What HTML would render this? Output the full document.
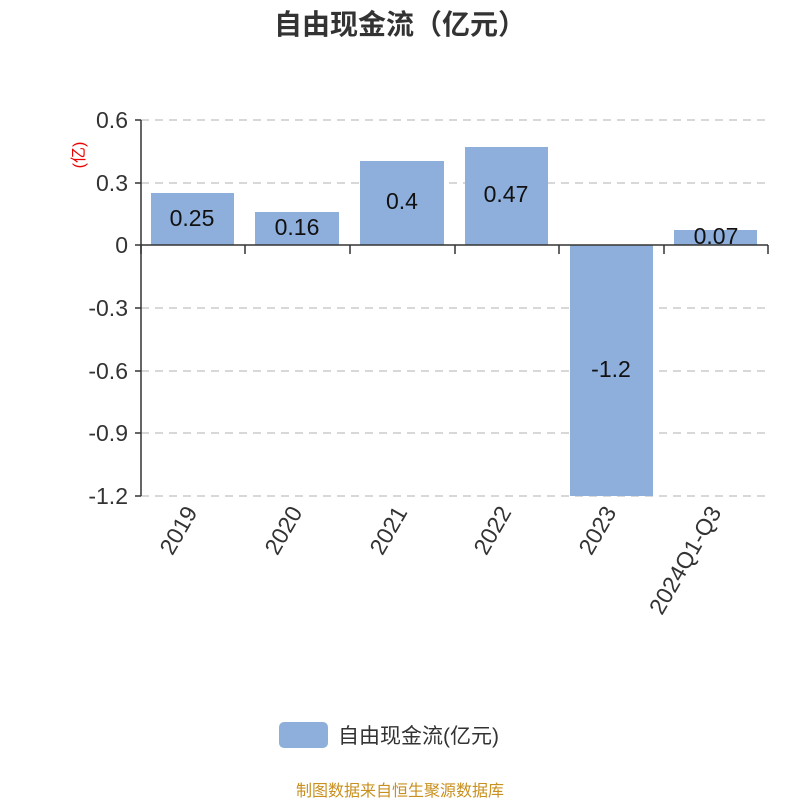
<!DOCTYPE html>
<html><head><meta charset="utf-8"><style>
html,body{margin:0;padding:0;background:#fff;}
svg text{font-family:"Liberation Sans","Noto Sans CJK SC",sans-serif;}
</style></head><body>
<svg width="800" height="800" xmlns="http://www.w3.org/2000/svg">
<text x="400" y="34" text-anchor="middle" font-size="28" font-weight="bold" fill="#333">自由现金流（亿元）</text>
<g stroke="#ccc" stroke-width="1.5" stroke-dasharray="8,6">
<line x1="141" y1="120" x2="768" y2="120"/>
<line x1="141" y1="183" x2="768" y2="183"/>
<line x1="141" y1="308" x2="768" y2="308"/>
<line x1="141" y1="371" x2="768" y2="371"/>
<line x1="141" y1="433" x2="768" y2="433"/>
<line x1="141" y1="496" x2="768" y2="496"/>
</g>
<g fill="#8eaedb">
<rect x="151" y="193" width="83" height="52"/>
<rect x="255" y="212" width="84" height="33"/>
<rect x="360" y="161" width="84" height="84"/>
<rect x="465" y="147" width="83" height="98"/>
<rect x="570" y="245" width="83" height="251"/>
<rect x="674" y="230" width="83" height="15"/>
</g>
<g stroke="#333" stroke-width="1.5">
<line x1="141" y1="120" x2="141" y2="496"/>
<line x1="141" y1="245" x2="768" y2="245"/>
<line x1="135" y1="120" x2="141" y2="120"/>
<line x1="135" y1="183" x2="141" y2="183"/>
<line x1="135" y1="245" x2="141" y2="245"/>
<line x1="135" y1="308" x2="141" y2="308"/>
<line x1="135" y1="371" x2="141" y2="371"/>
<line x1="135" y1="433" x2="141" y2="433"/>
<line x1="135" y1="496" x2="141" y2="496"/>
<line x1="141" y1="245" x2="141" y2="254"/>
<line x1="245" y1="245" x2="245" y2="254"/>
<line x1="350" y1="245" x2="350" y2="254"/>
<line x1="455" y1="245" x2="455" y2="254"/>
<line x1="559" y1="245" x2="559" y2="254"/>
<line x1="664" y1="245" x2="664" y2="254"/>
<line x1="768" y1="245" x2="768" y2="254"/>
</g>
<g font-size="23" fill="#333" text-anchor="end">
<text x="128" y="128">0.6</text>
<text x="128" y="191">0.3</text>
<text x="128" y="253">0</text>
<text x="128" y="316">-0.3</text>
<text x="128" y="379">-0.6</text>
<text x="128" y="441">-0.9</text>
<text x="128" y="504">-1.2</text>
</g>
<text transform="translate(84,155) rotate(-90)" text-anchor="middle" font-size="16" fill="#e00">(亿)</text>
<g font-size="23" fill="#111" text-anchor="middle">
<text x="192" y="226">0.25</text>
<text x="297" y="235">0.16</text>
<text x="402" y="209">0.4</text>
<text x="506" y="202">0.47</text>
<text x="611" y="377">-1.2</text>
<text x="716" y="244">0.07</text>
</g>
<g font-size="23" fill="#333" text-anchor="end">
<text transform="translate(198,512) rotate(-60)">2019</text>
<text transform="translate(303,512) rotate(-60)">2020</text>
<text transform="translate(408,512) rotate(-60)">2021</text>
<text transform="translate(512,512) rotate(-60)">2022</text>
<text transform="translate(617,512) rotate(-60)">2023</text>
<text transform="translate(722,512) rotate(-60)">2024Q1-Q3</text>
</g>
<rect x="279" y="722" width="49" height="26" rx="5" fill="#8eaedb"/>
<text x="338" y="743" font-size="21" fill="#333">自由现金流(亿元)</text>
<text x="400" y="796" text-anchor="middle" font-size="16" fill="#c8901f">制图数据来自恒生聚源数据库</text>
</svg>
</body></html>
